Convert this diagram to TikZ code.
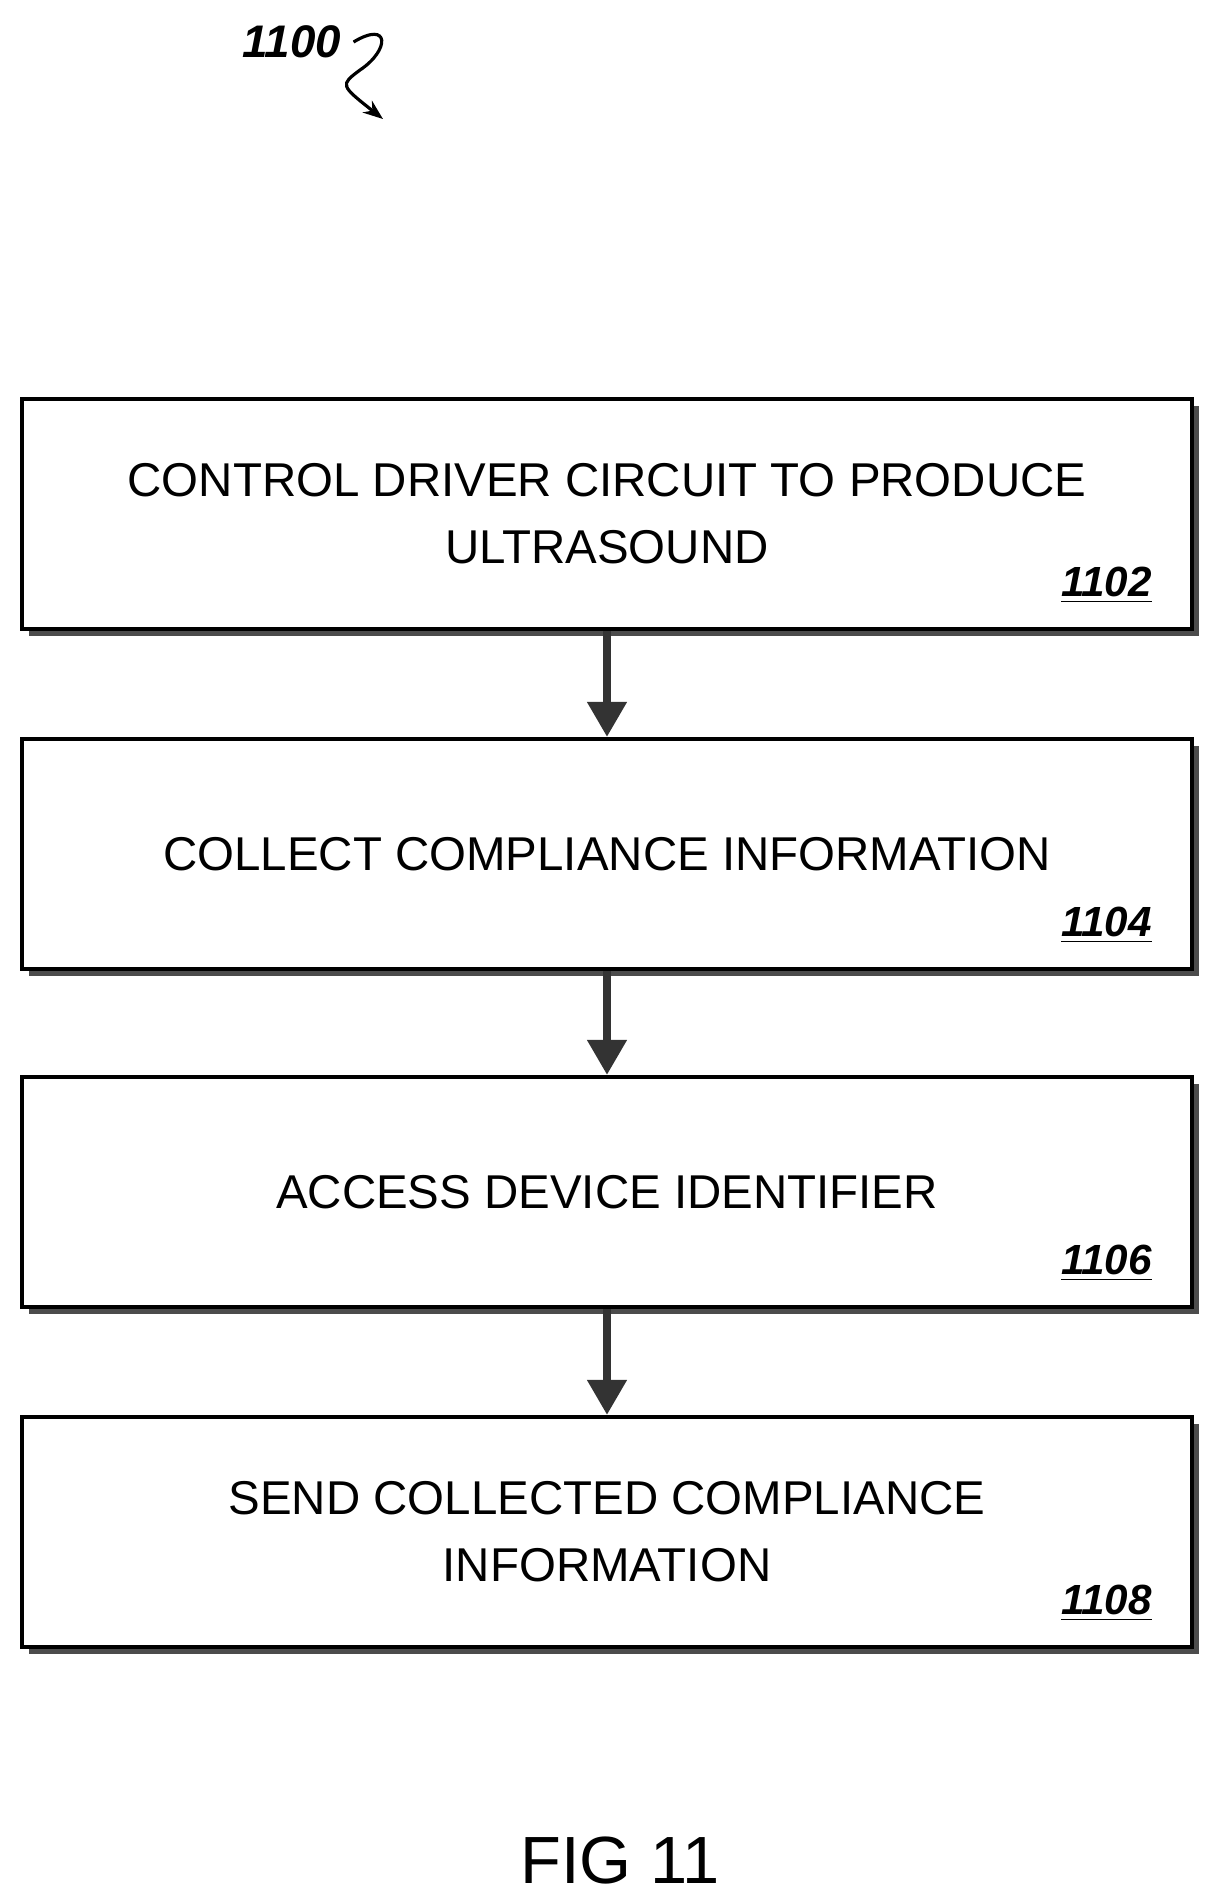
\documentclass[tikz,border=0pt]{standalone}
\usepackage{fontspec}
\setmainfont{Liberation Sans}
\usetikzlibrary{positioning,arrows.meta,shadows}
\tikzset{
  stepbox/.style={draw,line width=1.2pt,minimum width=11.7cm,minimum height=2.3cm,
    align=center,font=\fontsize{13.5}{19}\selectfont,fill=white,
    drop shadow={shadow xshift=0.07cm,shadow yshift=-0.07cm,fill=black!70,opacity=1}},
  ref/.style={font=\fontsize{12}{14}\selectfont\bfseries\itshape,anchor=south east},
  flow/.style={line width=2.2pt,-{Triangle[length=0.35cm,width=0.38cm]},black!80}
}
\begin{document}
\begin{tikzpicture}
  \useasboundingbox (0,0) rectangle (12.16,-18.98);
  \node[font=\fontsize{13}{15}\selectfont\bfseries\itshape] (fig) at (2.92,-0.42) {1100};
  \coordinate (figend) at (3.83,-1.19);
  \draw[line width=0.9pt,-{Stealth[length=0.2cm]}] (fig.east) .. controls (3.9,-0.2) and (3.9,-0.5) .. (3.6,-0.7) .. controls (3.4,-0.85) .. (figend);
  % steps
  \node[stepbox] (s1) at (6.07,-5.14) {CONTROL DRIVER CIRCUIT TO PRODUCE\\ULTRASOUND};
  \node[stepbox] (s2) at (6.07,-8.54) {COLLECT COMPLIANCE INFORMATION};
  \node[stepbox] (s3) at (6.07,-11.92) {ACCESS DEVICE IDENTIFIER};
  \node[stepbox] (s4) at (6.07,-15.32) {SEND COLLECTED COMPLIANCE\\INFORMATION};
  \node[ref] at ([xshift=-0.3cm,yshift=0.15cm]s1.south east) {\underline{1102}};
  \node[ref] at ([xshift=-0.3cm,yshift=0.15cm]s2.south east) {\underline{1104}};
  \node[ref] at ([xshift=-0.3cm,yshift=0.15cm]s3.south east) {\underline{1106}};
  \node[ref] at ([xshift=-0.3cm,yshift=0.15cm]s4.south east) {\underline{1108}};
  \foreach \a/\b in {s1/s2,s2/s3,s3/s4} {
    \draw[flow] (\a) -- (\b);
  };
  \node[font=\fontsize{19}{22}\selectfont] (cap) at (6.2,-18.6) {FIG 11};
\end{tikzpicture}
\end{document}
